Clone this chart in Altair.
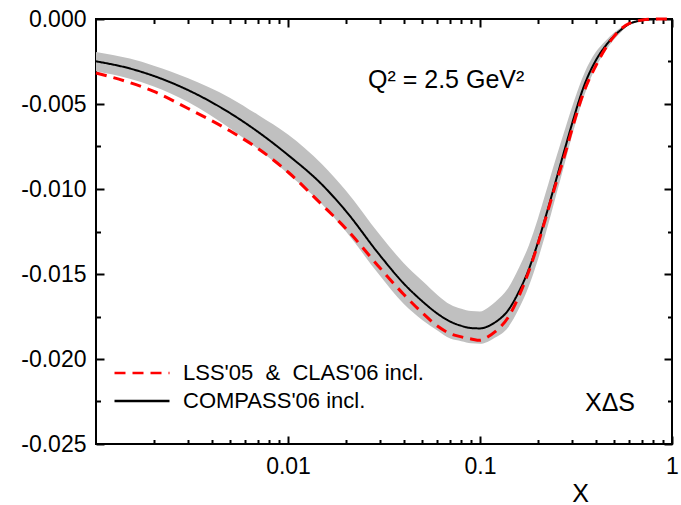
import altair as alt
import pandas as pd

# ---------------- data ----------------
x_vals = [0.001, 0.0015, 0.002, 0.003, 0.005, 0.007, 0.01, 0.015, 0.02, 0.03,
          0.04, 0.05, 0.06, 0.07, 0.08, 0.09, 0.1, 0.11, 0.12, 0.14,
          0.16, 0.18, 0.2, 0.22, 0.25, 0.28, 0.3, 0.35, 0.4, 0.45,
          0.5, 0.55, 0.6, 0.65, 0.7, 0.8, 0.9, 1.0]

compass = [-0.00249, -0.00291, -0.00335, -0.00417, -0.00554, -0.00665, -0.0080, -0.00973, -0.01129, -0.01388,
           -0.01555, -0.0166, -0.01733, -0.0178, -0.01805, -0.01818, -0.0182, -0.01808, -0.01784, -0.01714,
           -0.0160, -0.01469, -0.01317, -0.01161, -0.0094, -0.00743, -0.00625, -0.00387, -0.00246, -0.00159,
           -0.00099, -0.00058, -0.00028, -0.00015, -0.00008, -0.00002, 0.0, 0.0]

lss_clas = [-0.00318, -0.00374, -0.00426, -0.00525, -0.00659, -0.00763, -0.0090, -0.01092, -0.01232, -0.01462,
            -0.01619, -0.01728, -0.01806, -0.01851, -0.0187, -0.01882, -0.0189, -0.01869, -0.01839, -0.01756,
            -0.01627, -0.01481, -0.01326, -0.01171, -0.00958, -0.00778, -0.00657, -0.0042, -0.00278, -0.00173,
            -0.00101, -0.00052, -0.00026, -0.00013, -0.00006, -0.00001, 0.0, 0.0]

band_hi = [-0.00194, -0.00233, -0.00275, -0.00347, -0.00464, -0.00565, -0.0068, -0.00853, -0.01009, -0.01268,
           -0.01435, -0.0154, -0.01623, -0.0168, -0.01705, -0.01718, -0.0172, -0.01698, -0.01664, -0.01584,
           -0.0146, -0.01329, -0.01177, -0.01021, -0.0081, -0.00633, -0.00525, -0.00317, -0.00196, -0.00129,
           -0.00079, -0.00046, -0.0002, -0.0001, -0.00006, -0.00001, 0.0, 0.0]

band_lo = [-0.00307, -0.00351, -0.00397, -0.00487, -0.00644, -0.00765, -0.0091, -0.01088, -0.01249, -0.01508,
           -0.01675, -0.0177, -0.01833, -0.0188, -0.01895, -0.01908, -0.0191, -0.01898, -0.01874, -0.01814,
           -0.0170, -0.01569, -0.01417, -0.01261, -0.0103, -0.00823, -0.00695, -0.00447, -0.00286, -0.00189,
           -0.00119, -0.0007, -0.00036, -0.0002, -0.0001, -0.00003, 0.0, 0.0]

series_names = ["LSS'05\u00a0 &\u00a0 CLAS'06 incl.", "COMPASS'06 incl."]

x_tick_values = [0.002, 0.003, 0.004, 0.005, 0.006, 0.007, 0.008, 0.009, 0.01,
                 0.02, 0.03, 0.04, 0.05, 0.06, 0.07, 0.08, 0.09, 0.1,
                 0.2, 0.3, 0.4, 0.5, 0.6, 0.7, 0.8, 0.9, 1.0]
y_tick_values = [-0.025, -0.0225, -0.02, -0.0175, -0.015, -0.0125, -0.01,
                 -0.0075, -0.005, -0.0025, 0.0]

q2_label = ["Q\u00b2 = 2.5 GeV\u00b2"]
pdf_label = ["X\u0394S"]

# ---------------- tables ----------------
df_band = pd.DataFrame({"x": x_vals, "hi": band_hi, "lo": band_lo})
df_black = pd.DataFrame({"x": x_vals, "y": compass, "series": series_names[1]})
df_red = pd.DataFrame({"x": x_vals, "y": lss_clas, "series": series_names[0]})

FONT = "Liberation Sans, Arial, sans-serif"
W, H = 576, 425

xscale = alt.Scale(type="log", domain=[0.001, 1], nice=False)
yscale = alt.Scale(domain=[-0.025, 0], nice=False, zero=False)

x_major = "abs(log(datum.value)/LN10 - round(log(datum.value)/LN10)) < 0.001"
y_major = "abs(datum.value/0.005 - round(datum.value/0.005)) < 0.001"
x_tick_size = {"expr": f"{x_major} ? -8 : -4.5"}
y_tick_size = {"expr": f"{y_major} ? -8 : -4.5"}

common = dict(grid=False, domain=False, tickColor="black", tickWidth=2,
              labelFont=FONT, labelColor="black", labelFontSize=23,
              labelFlush=False, labelOverlap=False)

x_bottom = alt.Axis(orient="bottom", values=x_tick_values, tickSize=x_tick_size,
                    labelExpr=f"{x_major} ? format(datum.value, '~g') : ''",
                    labelPadding=37, labelBaseline="alphabetic",
                    title="X", titleX=484, titleY=57, titleBaseline="alphabetic",
                    titleAlign="center", titleAngle=0, titleFont=FONT, titleFontSize=25,
                    titleFontWeight="normal", titleColor="black", **common)
x_top = alt.Axis(orient="top", values=x_tick_values, tickSize=x_tick_size,
                 labels=False, title=None, **common)
y_left = alt.Axis(orient="left", values=y_tick_values, tickSize=y_tick_size,
                  labelExpr=f"{y_major} ? replace(format(datum.value, '.3f'), '\u2212', '-') : ''",
                  labelPadding=18, title=None, **common)
y_right = alt.Axis(orient="right", values=y_tick_values, tickSize=y_tick_size,
                   labels=False, title=None, **common)

legend = alt.Legend(orient="none", legendX=17, legendY=340, title=None,
                    labelFont=FONT, labelFontSize=22, labelColor="black", labelLimit=500,
                    symbolType="stroke", symbolSize=3025, symbolStrokeWidth=2.5,
                    labelOffset=12, rowPadding=0, clipHeight=28, padding=0)

color = alt.Color("series:N", scale=alt.Scale(domain=series_names, range=["#ff0000", "#000000"]),
                  legend=legend)
dash = alt.StrokeDash("series:N", scale=alt.Scale(domain=series_names, range=[[11, 7], [1, 0]]),
                      legend=legend)

band = alt.Chart(df_band).mark_area(color="#c0c0c0", interpolate="monotone").encode(
    x=alt.X("x:Q", scale=xscale, axis=x_bottom),
    y=alt.Y("hi:Q", scale=yscale, axis=y_left),
    y2="lo:Q",
)

black = alt.Chart(df_black).mark_line(strokeWidth=2, interpolate="monotone").encode(
    x=alt.X("x:Q", scale=xscale, axis=x_top),
    y=alt.Y("y:Q", scale=yscale, axis=y_right),
    color=color, strokeDash=dash,
)

red = alt.Chart(df_red).mark_line(strokeWidth=3, interpolate="monotone").encode(
    x=alt.X("x:Q", scale=xscale, axis=None),
    y=alt.Y("y:Q", scale=yscale, axis=None),
    color=color, strokeDash=dash,
)

q2 = alt.Chart(pd.DataFrame({"t": q2_label})).mark_text(
    align="left", baseline="alphabetic", font=FONT, fontSize=25, color="black"
).encode(x=alt.value(272), y=alt.value(69), text="t:N")

pdf = alt.Chart(pd.DataFrame({"t": pdf_label})).mark_text(
    align="left", baseline="alphabetic", font=FONT, fontSize=25, color="black"
).encode(x=alt.value(489), y=alt.value(392), text="t:N")

chart = alt.layer(band, black, red, q2, pdf).resolve_axis(
    x="independent", y="independent"
).properties(
    width=W, height=H,
    padding={"left": 96, "top": 19, "right": 9, "bottom": 61},
    autosize=alt.AutoSizeParams(type="none"),
    background="white",
).configure_view(stroke="black", strokeWidth=2)

chart.save("out.html", embed_options={"renderer": "svg", "actions": False})
